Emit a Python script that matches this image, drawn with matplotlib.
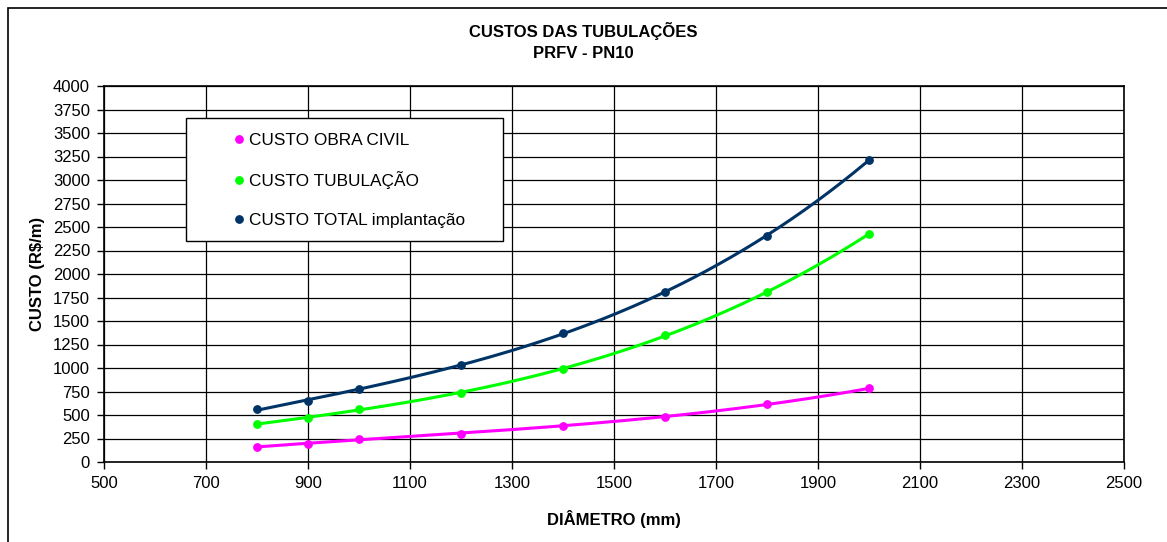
import numpy as np
import matplotlib as mpl
mpl.use('Agg')
import matplotlib.pyplot as plt
from matplotlib.patches import Rectangle

plt.rcParams['font.family'] = ['Liberation Sans', 'DejaVu Sans']

# data
diametro = [800, 900, 1000, 1200, 1400, 1600, 1800, 2000]
obra_civil = [162, 192, 245, 303, 386, 484, 612, 783]
tubulacao = [404, 470, 562, 738, 991, 1346, 1807, 2427]
total = [560, 645, 780, 1031, 1373, 1807, 2407, 3214]

series = [
    ('CUSTO OBRA CIVIL', obra_civil, '#FF00FF'),
    ('CUSTO TUBULAÇÃO', tubulacao, '#00FF00'),
    ('CUSTO TOTAL implantação', total, '#003366'),
]

W, H = 1167, 542
fig = plt.figure(figsize=(W / 100, H / 100), dpi=100)
ax = fig.add_axes([104 / W, 1 - 462 / H, (1124 - 104) / W, (462 - 86) / H])

# outer chart border (Excel chart area)
fig.patches.append(Rectangle((8 / W, -0.05), 1.2, 1 - 8 / H + 0.05,
                             transform=fig.transFigure, fill=False,
                             edgecolor='black', linewidth=1.2))

xs = np.array(diametro, dtype=float)
xfit = np.linspace(xs.min(), xs.max(), 200)
for label, vals, color in series:
    # polynomial trendline as in the original spreadsheet chart
    coef = np.polyfit(xs, vals, 3)
    ax.plot(xfit, np.polyval(coef, xfit), color=color, linewidth=2.2, zorder=3)
    ax.plot(xs, vals, 'o', color=color, markersize=5.3, zorder=4, label=label)

ax.set_xlim(500, 2500)
ax.set_ylim(0, 4000)
ax.set_xticks(np.arange(500, 2501, 200))
ax.set_yticks(np.arange(0, 4001, 250))
ax.grid(True, color='black', linewidth=0.9)
ax.set_axisbelow(True)
for s in ax.spines.values():
    s.set_linewidth(1.2)
ax.tick_params(direction='out', length=5, width=1, labelsize=12, pad=5)

ax.set_xlabel('DIÂMETRO (mm)', fontsize=12, fontweight='bold', labelpad=14)
ax.set_ylabel(r'CUSTO (R\$/m)', fontsize=12, fontweight='bold', labelpad=6)

fig.text(0.5, 1 - 31 / H, 'CUSTOS DAS TUBULAÇÕES', ha='center', va='center',
         fontsize=12, fontweight='bold')
fig.text(0.5, 1 - 53 / H, 'PRFV - PN10', ha='center', va='center',
         fontsize=12, fontweight='bold')

# legend box drawn separately (Excel pads it more on the sides)
box = Rectangle((186.5 / W, 1 - 241 / H), 316.5 / W, 123 / H,
                transform=fig.transFigure, facecolor='white',
                edgecolor='black', linewidth=1.0, zorder=5)
ax.add_patch(box)
box.set_clip_on(False)

leg = ax.legend(loc='upper left', bbox_to_anchor=(223 / W, 1 - 124 / H),
                bbox_transform=fig.transFigure, frameon=False,
                fontsize=12.4, handlelength=0.8, handletextpad=0.2,
                labelspacing=1.38, borderpad=0, markerscale=1.0)
leg.set_zorder(6)

fig.savefig('out.png', dpi=100)
